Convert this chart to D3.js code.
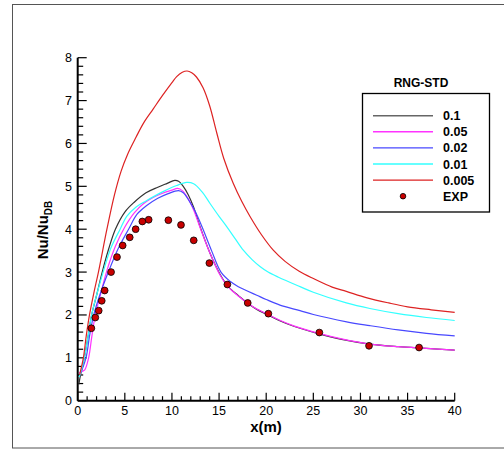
<!DOCTYPE html>
<html>
<head>
<meta charset="utf-8">
<script src="https://cdn.jsdelivr.net/npm/d3@7"></script>
<style>
  body { margin: 0; background: #fff; }
  text { font-family: "Liberation Sans", Arial, sans-serif; }
</style>
</head>
<body>
<svg width="504" height="449"></svg>
<script>
// legend labels / colours
var seriesNames = ["0.1", "0.05", "0.02", "0.01", "0.005"];
var seriesColors = ["#333333", "#ff33ff", "#4848ff", "#33ffff", "#dd2222"];

// curves, [x, Nu/NuDB]
var s01 = [[0.12,0.38],[0.3,0.6],[0.7,1],[1.1,1.5],[1.48,2],[2.05,2.5],[2.6,3],[3.3,3.55],[4,4],[5,4.4],[6,4.63],
  [7.25,4.85],[8.5,4.98],[9.5,5.07],[10.3,5.14],[10.7,5.12],[11.2,5.0],[11.74,4.8],[12.27,4.53],[12.98,4.06],
  [14.04,3.44],[15.1,2.95],[15.9,2.68],[16.5,2.55],[17,2.46],[18,2.28],[19,2.13],[20.2,2.0],[21.5,1.86],
  [23,1.73],[25.6,1.56],[28,1.43],[31,1.32],[34,1.26],[37,1.22],[40,1.18]];
var s005 = [[0.15,0.65],[0.45,0.68],[0.75,0.72],[1.16,1],[1.5,1.5],[1.87,2],[2.45,2.5],[3.05,3],[4,3.6],[5,4.05],
  [6,4.38],[7,4.6],[8,4.74],[9,4.84],[10,4.91],[10.6,4.95],[11.1,4.9],[11.7,4.72],[12.3,4.45],[13,4.03],
  [14.04,3.44],[15.1,2.93],[15.9,2.67],[16.5,2.54],[17,2.45],[18,2.28],[19,2.14],[20.2,2.01],[21.5,1.87],
  [23,1.74],[25.6,1.57],[28,1.44],[31,1.32],[34,1.26],[37,1.22],[40,1.18]];
var s002 = [[0.2,0.58],[0.88,1],[1.25,1.5],[1.7,2],[2.4,2.5],[3.25,3],[4.3,3.55],[5.4,4],[6.3,4.35],[7.25,4.54],
  [8.5,4.72],[9.6,4.83],[10.7,4.9],[11.2,4.85],[11.8,4.67],[12.5,4.4],[13.2,4.05],[14.2,3.5],[15.2,3.0],
  [16.2,2.78],[17.04,2.66],[18,2.56],[19,2.46],[20,2.36],[21.46,2.23],[23.59,2.1],[25,2.01],[28.54,1.84],
  [31,1.75],[34,1.65],[37,1.57],[40,1.51]];
var s0001 = [[0.15,0.55],[0.3,0.65],[0.7,1],[1.1,1.5],[1.48,2],[2.05,2.5],[2.7,3],[3.5,3.55],[4.5,4],[5.2,4.3],
  [6.2,4.52],[7.25,4.66],[9,4.87],[10.5,5.02],[11.56,5.09],[12.3,5.06],[13.2,4.87],[14.04,4.6],[15,4.3],
  [15.81,4.06],[16.7,3.78],[17.57,3.51],[18.5,3.29],[19.34,3.13],[20.2,3.0],[21.3,2.88],[23.59,2.66],
  [25,2.53],[28.5,2.28],[31,2.15],[34,2.03],[37,1.94],[40,1.87]];
var s0005 = [[0.2,0.6],[0.6,1],[0.9,1.5],[1.25,2],[1.7,2.5],[2.2,3],[3.1,4],[3.9,4.8],[4.6,5.35],[5.3,5.75],
  [6.2,6.15],[7,6.48],[8,6.8],[9,7.12],[10,7.42],[10.5,7.56],[11.1,7.66],[11.6,7.69],[12.1,7.65],[12.6,7.55],
  [13.3,7.3],[14,6.88],[14.75,6.25],[15.5,5.65],[16.5,5.07],[17.4,4.65],[18.3,4.29],[19.5,3.87],[20.75,3.51],
  [22,3.25],[23.5,3.02],[25,2.85],[27,2.65],[28.5,2.55],[30.7,2.4],[33,2.28],[35,2.19],[37.5,2.12],[40,2.06]];
var seriesData = [s01, s005, s002, s0001, s0005];

// experimental points
var expX = [1.45,1.87,2.23,2.55,2.86,3.54,4.17,4.77,5.52,6.15,6.86,7.53,9.62,10.96,12.31,13.97,15.88,18.04,20.23,25.64,30.91,36.22];
var expY = [1.69,1.94,2.10,2.33,2.57,3.00,3.35,3.62,3.81,4.00,4.18,4.22,4.21,4.10,3.74,3.21,2.71,2.28,2.03,1.59,1.28,1.24];

var xTicks = [0, 5, 10, 15, 20, 25, 30, 35, 40];
var yTicks = [0, 1, 2, 3, 4, 5, 6, 7, 8];

var svg = d3.select("svg");

// outer frame
svg.append("rect")
    .attr("x", 12.5).attr("y", 4.5)
    .attr("width", 500).attr("height", 443.5)
    .attr("fill", "none").attr("stroke", "#555").attr("stroke-width", 1);

var x = d3.scaleLinear().domain([0, 40]).range([77.7, 454.7]);
var y = d3.scaleLinear().domain([0, 8]).range([400.7, 57.7]);

var g = svg.append("g");

// minor ticks (inward)
g.selectAll(".xminor").data(d3.range(0, 41, 1)).enter().append("line")
    .attr("x1", function(d) { return x(d); }).attr("x2", function(d) { return x(d); })
    .attr("y1", y(0)).attr("y2", function(d) { return d % 5 === 0 ? y(0) - 8 : y(0) - 4.5; })
    .attr("stroke", "#000").attr("stroke-width", 1.2);
g.selectAll(".yminor").data(d3.range(0, 40.5, 1).map(function(d) { return d / 5; })).enter().append("line")
    .attr("y1", function(d) { return y(d); }).attr("y2", function(d) { return y(d); })
    .attr("x1", x(0)).attr("x2", function(d, i) { return i % 5 === 0 ? x(0) + 9 : x(0) + 5.5; })
    .attr("stroke", "#000").attr("stroke-width", 1.2);

// axis lines
g.append("line").attr("x1", x(0)).attr("x2", x(40)).attr("y1", y(0)).attr("y2", y(0))
    .attr("stroke", "#000").attr("stroke-width", 2);
g.append("line").attr("x1", x(0)).attr("x2", x(0)).attr("y1", y(0)).attr("y2", y(8))
    .attr("stroke", "#000").attr("stroke-width", 2);

// tick labels
g.selectAll(".xl").data(xTicks).enter().append("text")
    .attr("x", function(d) { return x(d); }).attr("y", 415)
    .attr("text-anchor", "middle").attr("font-size", 12.5).text(function(d) { return d; });
g.selectAll(".yl").data(yTicks).enter().append("text")
    .attr("x", 72).attr("y", function(d) { return y(d) + 4.5; })
    .attr("text-anchor", "end").attr("font-size", 12.5).text(function(d) { return d; });

// axis titles
svg.append("text").attr("x", 266).attr("y", 432).attr("text-anchor", "middle")
    .attr("font-size", 15).attr("font-weight", "bold").text("x(m)");
var yt = svg.append("text").attr("transform", "translate(48,230) rotate(-90)")
    .attr("text-anchor", "middle").attr("font-size", 15).attr("font-weight", "bold");
yt.append("tspan").text("Nu/Nu");
yt.append("tspan").attr("font-size", 10).attr("dy", 4).text("DB");

// curves
var line = d3.line()
    .x(function(d) { return x(d[0]); })
    .y(function(d) { return y(d[1]); })
    .curve(d3.curveCatmullRom.alpha(0.5));

svg.append("g").selectAll("path").data(seriesData).enter().append("path")
    .attr("d", line)
    .attr("fill", "none")
    .attr("stroke", function(d, i) { return seriesColors[i]; })
    .attr("stroke-width", 1.2);

// EXP points
svg.append("g").selectAll("circle").data(expX).enter().append("circle")
    .attr("cx", function(d) { return x(d); })
    .attr("cy", function(d, i) { return y(expY[i]); })
    .attr("r", 3.4)
    .attr("fill", "#c80000").attr("stroke", "#000").attr("stroke-width", 0.8);

// legend
svg.append("text").attr("x", 421).attr("y", 87).attr("text-anchor", "middle")
    .attr("font-size", 12).attr("font-weight", "bold").text("RNG-STD");
svg.append("rect").attr("x", 362.5).attr("y", 93.5).attr("width", 127).attr("height", 118.5)
    .attr("fill", "#fff").attr("stroke", "#000").attr("stroke-width", 1.3);

var rowY = [115.7, 131.8, 147.9, 164, 180.1, 196.2];
var leg = svg.append("g");
seriesNames.forEach(function(name, i) {
  leg.append("line").attr("x1", 373).attr("x2", 433).attr("y1", rowY[i]).attr("y2", rowY[i])
      .attr("stroke", i === 0 ? "#666" : seriesColors[i]).attr("stroke-width", 1.4);
  leg.append("text").attr("x", 443).attr("y", rowY[i] + 4.5)
      .attr("font-size", 12.5).attr("font-weight", "bold").text(name);
});
leg.append("circle").attr("cx", 403).attr("cy", rowY[5]).attr("r", 2.8)
    .attr("fill", "#c80000").attr("stroke", "#000").attr("stroke-width", 0.8);
leg.append("text").attr("x", 443).attr("y", rowY[5] + 4.5)
    .attr("font-size", 12.5).attr("font-weight", "bold").text("EXP");
</script>
</body>
</html>
